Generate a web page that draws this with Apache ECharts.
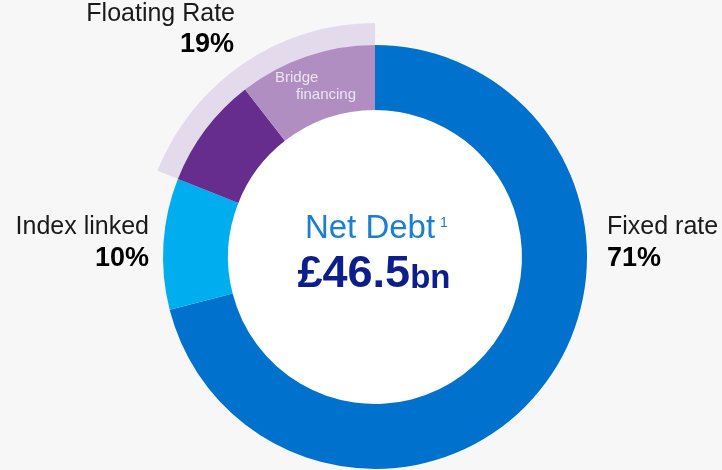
<!DOCTYPE html>
<html>
<head>
<meta charset="utf-8">
<script src="https://cdn.jsdelivr.net/npm/echarts@6/dist/echarts.min.js"></script>
<style>html,body{margin:0;padding:0;background:#f7f7f7}#c{width:722px;height:470px}</style>
</head>
<body>
<div id="c"></div>
<script>
// Data
const categories = ['Fixed rate', 'Index linked', 'Floating rate', 'Bridge financing'];
const values = [71, 10, 8.5, 10.5];
const colors = ['#0072ce', '#00adee', '#662d8f', '#b08ec2'];
const groupNames = ['Fixed rate', 'Index linked', 'Floating Rate'];
const groupValues = [71, 10, 19];
const centerTitle = 'Net Debt';
const centerValue = '£46.5';
const centerUnit = 'bn';

const chart = echarts.init(document.getElementById('c'), null, {renderer: 'canvas'});
const font = '"Liberation Sans", Arial, Helvetica, sans-serif';
const txt = '#1a1a1a';

const option = {
  backgroundColor: '#f7f7f7',
  animation: false,
  series: [
    {
      type: 'pie',
      z: 1,
      center: [375, 257],
      radius: [205, 234],
      startAngle: 90,
      clockwise: true,
      silent: true,
      label: {show: false},
      labelLine: {show: false},
      emphasis: {disabled: true},
      data: [
        {value: groupValues[0] + groupValues[1], itemStyle: {color: 'rgba(0,0,0,0)'}},
        {value: groupValues[2], itemStyle: {color: '#e3dbeb'}}
      ]
    },
    {
      type: 'pie',
      z: 2,
      center: [375, 257],
      radius: [147, 212],
      startAngle: 90,
      clockwise: true,
      silent: true,
      avoidLabelOverlap: false,
      label: {show: false},
      labelLine: {show: false},
      emphasis: {disabled: true},
      itemStyle: {borderWidth: 0},
      data: categories.map((c, i) => ({name: c, value: values[i], itemStyle: {color: colors[i]}}))
    },
    {
      type: 'pie',
      z: 0,
      center: [375, 257],
      radius: [0, 147],
      silent: true,
      label: {show: false},
      emphasis: {disabled: true},
      data: [{value: 1, itemStyle: {color: '#ffffff'}}]
    }
  ],
  graphic: [
    {type: 'text', z: 10, style: {text: groupNames[2], x: 235, y: 27, textAlign: 'right', textVerticalAlign: 'bottom', font: '25px ' + font, fill: txt}},
    {type: 'text', z: 10, style: {text: groupValues[2] + '%', x: 234, y: 58, textAlign: 'right', textVerticalAlign: 'bottom', font: 'bold 27px ' + font, fill: '#000'}},
    {type: 'text', z: 10, style: {text: 'Index linked', x: 149, y: 240, textAlign: 'right', textVerticalAlign: 'bottom', font: '25px ' + font, fill: txt}},
    {type: 'text', z: 10, style: {text: groupValues[1] + '%', x: 149, y: 272, textAlign: 'right', textVerticalAlign: 'bottom', font: 'bold 27px ' + font, fill: '#000'}},
    {type: 'text', z: 10, style: {text: groupNames[0], x: 607, y: 240, textAlign: 'left', textVerticalAlign: 'bottom', font: '25px ' + font, fill: txt}},
    {type: 'text', z: 10, style: {text: groupValues[0] + '%', x: 607, y: 272, textAlign: 'left', textVerticalAlign: 'bottom', font: 'bold 27px ' + font, fill: '#000'}},
    {type: 'text', z: 10, style: {text: 'Bridge', x: 275, y: 85, textAlign: 'left', textVerticalAlign: 'bottom', font: '15px ' + font, fill: '#ece4f2'}},
    {type: 'text', z: 10, style: {text: 'financing', x: 296, y: 102, textAlign: 'left', textVerticalAlign: 'bottom', font: '15px ' + font, fill: '#ece4f2'}},
    {type: 'text', z: 10, style: {text: centerTitle, x: 370, y: 245, textAlign: 'center', textVerticalAlign: 'bottom', font: '33px ' + font, fill: '#1a7fd4'}},
    {type: 'text', z: 10, style: {text: '1', x: 440, y: 216, textAlign: 'left', textVerticalAlign: 'top', font: '14px ' + font, fill: '#1a7fd4'}},
    {type: 'text', z: 10, style: {
      text: '{a|' + centerValue + '}{b|' + centerUnit + '}', x: 374, y: 297, textAlign: 'center', textVerticalAlign: 'bottom',
      rich: {
        a: {font: 'bold 45px ' + font, fill: '#0b1e8c', verticalAlign: 'bottom'},
        b: {font: 'bold 33px ' + font, fill: '#0b1e8c', verticalAlign: 'bottom', padding: [0,0,2,0]}
      }
    }}
  ]
};
chart.setOption(option);
</script>
</body>
</html>
